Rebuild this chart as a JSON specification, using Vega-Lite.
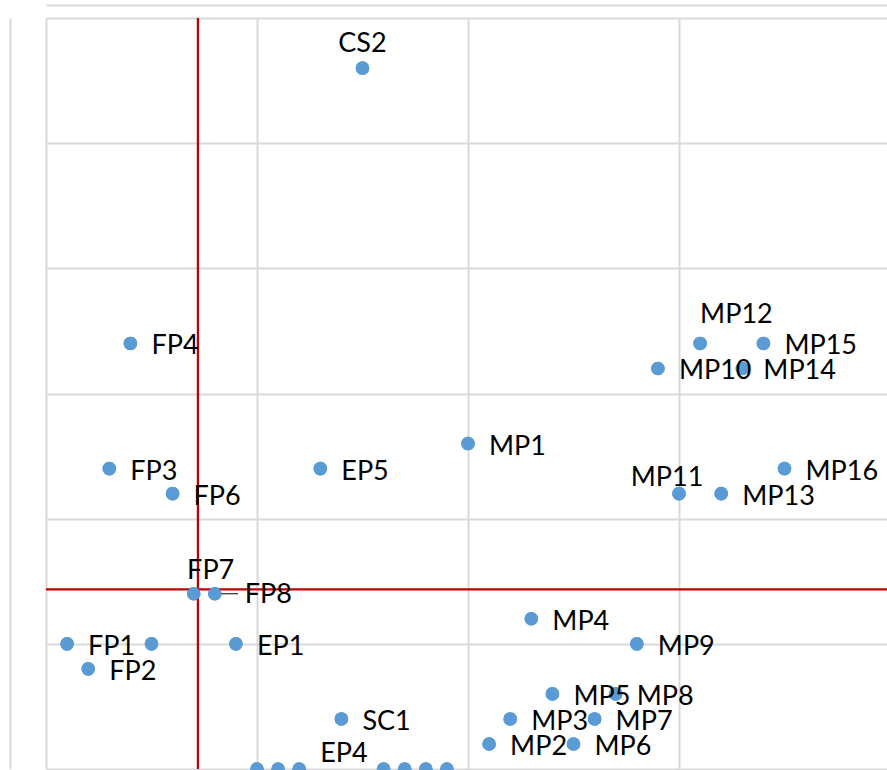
{
  "$schema": "https://vega.github.io/schema/vega-lite/v6.json",
  "width": 841,
  "height": 751,
  "autosize": {"type": "none"},
  "padding": {"left": 46, "top": 18, "right": 0, "bottom": 1},
  "background": "white",
  "config": {
    "view": {"stroke": null},
    "text": {"font": "Lato", "fontSize": 27, "color": "#000000"}
  },
  "datasets": {
    "points": [
      {"label": "FP1", "x": 1, "y": 5},
      {"label": "FP2", "x": 2, "y": 4},
      {"label": "FP3", "x": 3, "y": 12},
      {"label": "FP4", "x": 4, "y": 17},
      {"label": "", "x": 5, "y": 5},
      {"label": "FP6", "x": 6, "y": 11},
      {"label": "FP7", "x": 7, "y": 7},
      {"label": "FP8", "x": 8, "y": 7},
      {"label": "EP1", "x": 9, "y": 5},
      {"label": "", "x": 10, "y": 0},
      {"label": "", "x": 11, "y": 0},
      {"label": "EP4", "x": 12, "y": 0},
      {"label": "EP5", "x": 13, "y": 12},
      {"label": "SC1", "x": 14, "y": 2},
      {"label": "CS2", "x": 15, "y": 28},
      {"label": "", "x": 16, "y": 0},
      {"label": "", "x": 17, "y": 0},
      {"label": "", "x": 18, "y": 0},
      {"label": "", "x": 19, "y": 0},
      {"label": "MP1", "x": 20, "y": 13},
      {"label": "MP2", "x": 21, "y": 1},
      {"label": "MP3", "x": 22, "y": 2},
      {"label": "MP4", "x": 23, "y": 6},
      {"label": "MP5", "x": 24, "y": 3},
      {"label": "MP6", "x": 25, "y": 1},
      {"label": "MP7", "x": 26, "y": 2},
      {"label": "MP8", "x": 27, "y": 3},
      {"label": "MP9", "x": 28, "y": 5},
      {"label": "MP10", "x": 29, "y": 16},
      {"label": "MP11", "x": 30, "y": 11},
      {"label": "MP12", "x": 31, "y": 17},
      {"label": "MP13", "x": 32, "y": 11},
      {"label": "MP14", "x": 33, "y": 16},
      {"label": "MP15", "x": 34, "y": 17},
      {"label": "MP16", "x": 35, "y": 12}
    ],
    "threshold": [{"x": 7.2}],
    "leader": [{"x": 8, "x2": 9.1, "y": 7}]
  },
  "layer": [
    {
      "data": {"name": "points"},
      "mark": {"type": "circle", "size": 185, "color": "#5b9bd5", "opacity": 1},
      "encoding": {
        "x": {
          "field": "x", "type": "quantitative",
          "scale": {"domain": [0, 39.857], "nice": false, "zero": false},
          "axis": {"orient": "top", "offset": 13, "values": [0, 10, 20, 30], "grid": true, "gridColor": "#d9d9d9", "gridWidth": 2, "labels": false, "ticks": false, "domain": true, "domainColor": "#d9d9d9", "domainWidth": 2, "title": null}
        },
        "y": {
          "field": "y", "type": "quantitative",
          "scale": {"domain": [0, 30], "nice": false, "zero": false},
          "axis": {"orient": "left", "offset": 36, "values": [0, 5, 10, 15, 20, 25, 30], "grid": true, "gridColor": "#d9d9d9", "gridWidth": 2, "labels": false, "ticks": false, "domain": true, "domainColor": "#d9d9d9", "domainWidth": 2, "title": null}
        }
      }
    },
    {
      "data": {"name": "threshold"},
      "mark": {"type": "rule", "color": "#c00000", "strokeWidth": 2.25},
      "encoding": {"x": {"field": "x", "type": "quantitative"}}
    },
    {
      "data": {"name": "points"},
      "transform": [{"aggregate": [{"op": "mean", "field": "y", "as": "y"}]}],
      "mark": {"type": "rule", "color": "#c00000", "strokeWidth": 2.25},
      "encoding": {"y": {"field": "y", "type": "quantitative"}}
    },
    {
      "data": {"name": "leader"},
      "mark": {"type": "rule", "color": "#000000", "strokeWidth": 1},
      "encoding": {
        "x": {"field": "x", "type": "quantitative"},
        "x2": {"field": "x2"},
        "y": {"field": "y", "type": "quantitative"}
      }
    },
    {
      "data": {"name": "points"},
      "mark": {"type": "circle", "size": 185, "color": "#5b9bd5", "opacity": 1},
      "encoding": {
        "x": {"field": "x", "type": "quantitative"},
        "y": {"field": "y", "type": "quantitative"}
      }
    },
    {
      "data": {"name": "points"},
      "transform": [
        {"filter": "isValid(datum.label) && datum.label !== ''"},
        {"filter": {"not": {"field": "label", "oneOf": ["CS2", "MP12", "MP11", "FP7", "FP8", "EP4"]}}}
      ],
      "mark": {"type": "text", "align": "left", "baseline": "middle", "dx": 21, "dy": 3},
      "encoding": {
        "x": {"field": "x", "type": "quantitative"},
        "y": {"field": "y", "type": "quantitative"},
        "text": {"field": "label"}
      }
    },
    {
      "data": {"name": "points"},
      "transform": [{"filter": {"field": "label", "equal": "CS2"}}],
      "mark": {"type": "text", "align": "center", "baseline": "middle", "dx": 0, "dy": -24},
      "encoding": {
        "x": {"field": "x", "type": "quantitative"},
        "y": {"field": "y", "type": "quantitative"},
        "text": {"field": "label"}
      }
    },
    {
      "data": {"name": "points"},
      "transform": [{"filter": {"field": "label", "equal": "MP12"}}],
      "mark": {"type": "text", "align": "left", "baseline": "middle", "dx": 0, "dy": -28},
      "encoding": {
        "x": {"field": "x", "type": "quantitative"},
        "y": {"field": "y", "type": "quantitative"},
        "text": {"field": "label"}
      }
    },
    {
      "data": {"name": "points"},
      "transform": [{"filter": {"field": "label", "equal": "MP11"}}],
      "mark": {"type": "text", "align": "center", "baseline": "middle", "dx": -12, "dy": -16},
      "encoding": {
        "x": {"field": "x", "type": "quantitative"},
        "y": {"field": "y", "type": "quantitative"},
        "text": {"field": "label"}
      }
    },
    {
      "data": {"name": "points"},
      "transform": [{"filter": {"field": "label", "equal": "FP7"}}],
      "mark": {"type": "text", "align": "center", "baseline": "middle", "dx": 17, "dy": -23},
      "encoding": {
        "x": {"field": "x", "type": "quantitative"},
        "y": {"field": "y", "type": "quantitative"},
        "text": {"field": "label"}
      }
    },
    {
      "data": {"name": "points"},
      "transform": [{"filter": {"field": "label", "equal": "FP8"}}],
      "mark": {"type": "text", "align": "left", "baseline": "middle", "dx": 30, "dy": 1},
      "encoding": {
        "x": {"field": "x", "type": "quantitative"},
        "y": {"field": "y", "type": "quantitative"},
        "text": {"field": "label"}
      }
    },
    {
      "data": {"name": "points"},
      "transform": [{"filter": {"field": "label", "equal": "EP4"}}],
      "mark": {"type": "text", "align": "left", "baseline": "middle", "dx": 21, "dy": -15},
      "encoding": {
        "x": {"field": "x", "type": "quantitative"},
        "y": {"field": "y", "type": "quantitative"},
        "text": {"field": "label"}
      }
    }
  ]
}
